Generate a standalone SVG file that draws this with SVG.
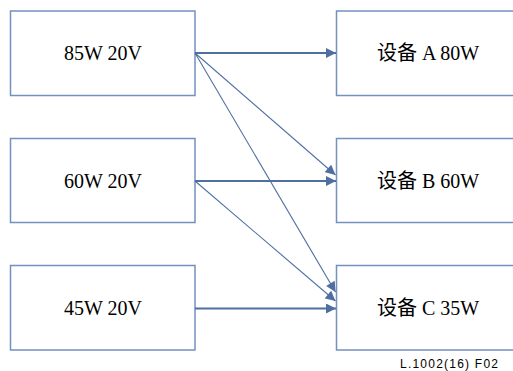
<svg xmlns="http://www.w3.org/2000/svg" width="513" height="371" viewBox="0 0 513 371">
<defs>
<style>
.box{fill:#fff;stroke:#7391bf;stroke-width:1.5}
.t{font-family:"Liberation Serif","Noto Sans CJK SC",serif;font-size:20px;fill:#000;text-anchor:middle}
.c{stroke:#4f6fa3;fill:none}
.h{stroke-width:1.8}
.d{stroke-width:1.1}
.lbl{font-family:"Liberation Sans",Arial,sans-serif;font-size:12px;fill:#000}
</style>
<marker id="ah" viewBox="0 0 10 10" refX="10" refY="5" markerUnits="userSpaceOnUse" markerWidth="11" markerHeight="10" orient="auto">
<path d="M0,0 L10,5 L0,10 z" fill="#4f6fa3"/>
</marker>
</defs>
<rect width="513" height="371" fill="#fff"/>
<g id="n85"><rect class="box" x="10.5" y="11" width="184.5" height="84.5"/><text class="t" x="103" y="60">85W 20V</text></g>
<g id="n60"><rect class="box" x="10.5" y="138.5" width="184.5" height="84"/><text class="t" x="103" y="188">60W 20V</text></g>
<g id="n45"><rect class="box" x="10.5" y="265.5" width="184.5" height="84.5"/><text class="t" x="103" y="315">45W 20V</text></g>
<g id="nA"><rect class="box" x="336.5" y="11" width="200" height="84.5"/><text class="t" x="428" y="60">设备 A 80W</text></g>
<g id="nB"><rect class="box" x="336.5" y="138.5" width="200" height="84"/><text class="t" x="428" y="188">设备 B 60W</text></g>
<g id="nC"><rect class="box" x="336.5" y="265.5" width="200" height="84.5"/><text class="t" x="428" y="315">设备 C 35W</text></g>
<g id="connectors">
<line class="c h" x1="195" y1="53" x2="336" y2="53" marker-end="url(#ah)"/>
<line class="c d" x1="195" y1="53" x2="335.5" y2="175" marker-end="url(#ah)"/>
<line class="c d" x1="195" y1="53" x2="335.5" y2="292" marker-end="url(#ah)"/>
<line class="c h" x1="195" y1="181" x2="336" y2="181" marker-end="url(#ah)"/>
<line class="c d" x1="195" y1="181" x2="335.5" y2="301" marker-end="url(#ah)"/>
<line class="c h" x1="195" y1="308.5" x2="336" y2="308.5" marker-end="url(#ah)"/>
</g>
<text class="lbl" x="400" y="368" textLength="98" lengthAdjust="spacing">L.1002(16)  F02</text>
</svg>
